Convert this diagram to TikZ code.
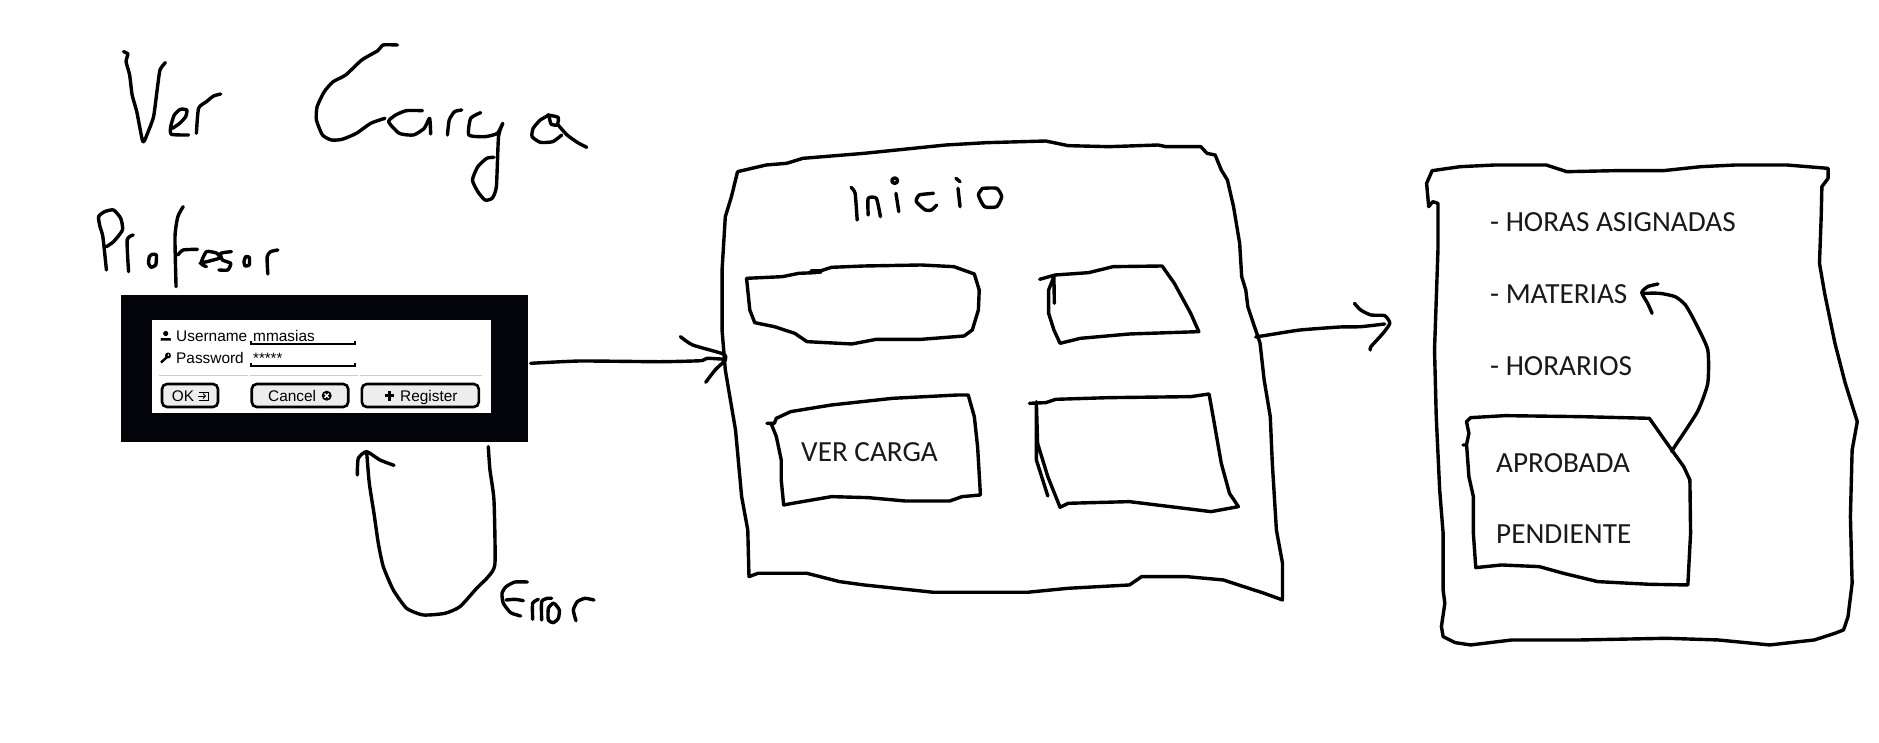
\documentclass[tikz,border=0pt]{standalone}
\usepackage{fontspec}
\setmainfont{Liberation Sans}
\newfontfamily\notefont{Carlito}
\definecolor{boxblack}{HTML}{020409}
\tikzset{
  ink/.style={draw=black,line width=3.4pt,line join=round,line cap=round},
  typed/.style={font=\notefont\fontsize{29.2}{32}\selectfont,text=black!90,anchor=west,inner sep=0pt},
  uitext/.style={font=\fontsize{15.4}{18}\selectfont,text=black,inner sep=0pt,anchor=west,text height=11pt,text depth=0pt},
  uibtn/.style={draw=black,line width=2.6pt,fill=black!7,rounded corners=5pt},
  uifield/.style={draw=black,line width=1.5pt},
  uisep/.style={draw=black!20,line width=1.5pt},
  zone1/.style={xshift=60pt,yshift=-20pt,x=.3571pt,y=-.3333pt},
  zone2/.style={xshift=100pt,yshift=-280pt,x=.3333pt,y=-.3333pt},
  zone3/.style={xshift=660pt,yshift=-130pt,x=.4082pt,y=-.3333pt},
  zone4/.style={xshift=1340pt,yshift=-150pt,x=.3437pt,y=-.3333pt},
  zone5/.style={xshift=490pt,yshift=-570pt,x=.3333pt,y=-.3333pt}
}
\newcommand{\inkline}[1]{\draw[ink] plot[smooth,tension=0.35] coordinates {#1};}
\begin{document}
\begin{tikzpicture}[x=1pt,y=-1pt]
\useasboundingbox (0,0) rectangle (1879,742);
\fill[white] (0,0) rectangle (1879,742);
% title
\begin{scope}[zone1]
\inkline{(178,95)(190,102)(185,125)(195,165)(202,225)(215,275)(232,365)(245,340)(262,290)(272,210)(280,150)(295,128)}
\inkline{(360,345)(312,343)(310,320)(320,285)(337,268)(355,270)(352,290)(335,310)(315,325)}
\inkline{(382,340)(388,265)(410,245)(430,228)(450,222)}
\inkline{(945,75)(905,75)(890,92)(845,120)(800,165)(765,185)(740,215)(720,260)(718,300)(735,345)(760,360)(790,358)(830,340)(870,310)(910,295)}
\inkline{(1015,272)(970,272)(940,285)(920,305)(950,340)(990,345)(1020,325)(1035,295)(1038,342)}
\inkline{(1085,345)(1090,300)(1105,275)(1125,270)}
\inkline{(1178,278)(1150,295)(1145,345)(1190,350)(1225,340)(1240,310)(1228,350)(1222,500)(1210,535)(1190,540)(1170,515)(1155,480)(1170,440)(1195,415)(1215,412)}
\inkline{(1370,285)(1345,300)(1325,325)(1322,350)(1345,367)(1380,365)(1405,345)}
\inkline{(1365,285)(1395,292)(1392,315)(1375,312)(1370,290)}
\inkline{(1395,315)(1420,345)(1450,368)(1475,382)}
% Profesor
\inkline{(130,750)(120,650)(112,620)(108,590)(125,575)(150,570)(170,595)(175,630)(150,665)(130,680)}
\inkline{(192,755)(188,660)(205,645)}
\inkline{(250,710)(258,703)(270,705)(268,735)(255,742)(248,730)(250,710)}
\inkline{(325,800)(322,650)(330,590)(345,560)}
\inkline{(330,705)(345,690)(385,688)}
\inkline{(392,730)(445,715)(440,700)(410,695)(395,730)(410,740)}
\inkline{(480,695)(450,700)(455,720)(478,730)(470,750)(445,750)}
\inkline{(515,725)(520,710)(530,712)(530,735)(518,738)(515,725)}
\inkline{(582,762)(580,710)(590,695)(610,690)}
\end{scope}
% login box
\node[fill=boxblack,minimum width=407pt,minimum height=147pt,inner sep=0pt,anchor=north west] (login) at (121,295) {};
\node[fill=white,minimum width=339pt,minimum height=93pt,inner sep=0pt,anchor=north west] (form) at (152,320) {};
\node[uitext] (userlbl) at (176,336) {Username};
\node[uitext] (passlbl) at (176,358) {Password};
\node[uitext] (userval) at (253,336) {mmasias};
\node[uitext,font=\fontsize{15}{16}\selectfont] (passval) at (253,358) {*****};
\draw[uifield] (251,341) -- (251,344) -- (355,344) -- (355,341);
\draw[uifield] (251,363) -- (251,366) -- (355,366) -- (355,363);
\draw[uisep] (159,375.7) -- (247.5,375.7);
\draw[uisep] (249.5,375.7) -- (358,375.7);
\draw[uisep] (360,375.7) -- (482,375.7);
% user icon
\fill (165.7,333.5) circle (2.6pt);
\fill (160.5,340.5) -- (161,338) -- (170.5,338) -- (171,340.5) -- cycle;
% key icon
\fill (168,355.5) circle (3pt);
\draw[line width=2.4pt] (167,357) -- (161,362.5);
\fill[white] (168.5,355) circle (.8pt);
% buttons
\node[uibtn,minimum width=56pt,minimum height=23pt,inner sep=0pt] (okbtn) at (190,395.5) {};
\node[uibtn,minimum width=96.5pt,minimum height=23pt,inner sep=0pt] (cancelbtn) at (300,395.5) {};
\node[uibtn,minimum width=117pt,minimum height=23pt,inner sep=0pt] (regbtn) at (420.3,395.5) {};
\node[uitext] (oktxt) at (171.7,396) {OK};
\node[uitext] (canceltxt) at (268,396) {Cancel};
\node[uitext] (regtxt) at (400,396) {Register};
% ok icon
\draw[line width=.9pt] (198,396) -- (205,396);
\draw[line width=.9pt] (203,393.5) -- (205.5,396) -- (203,398.5);
\draw[line width=.9pt] (199,392) -- (208,392) -- (208,400) -- (199,400);
% cancel icon
\fill (326.7,395.7) circle (5pt);
\draw[white,line width=1.3pt] (324.6,393.6) -- (328.8,397.8) (328.8,393.6) -- (324.6,397.8);
% plus icon
\draw[line width=2.6pt] (384.5,395.7) -- (394,395.7) (389.3,391) -- (389.3,400.5);
% loop arrow and Error
\begin{scope}[zone2]
\inkline{(1165,500)(1170,570)(1182,660)(1185,850)(1165,890)(1130,925)(1080,980)(1035,1000)(970,1005)(920,985)(880,930)(850,860)(835,790)(822,700)(808,610)(800,515)}
\inkline{(772,585)(775,535)(800,515)(840,540)(882,556)}
\end{scope}
\begin{scope}[zone5]
\inkline{(112,36)(75,36)(48,50)(36,70)(40,100)(62,128)(92,138)}
\inkline{(48,90)(75,88)(100,92)}
\inkline{(128,148)(128,100)(145,88)}
\inkline{(155,150)(155,95)(172,85)(185,85)}
\inkline{(188,100)(175,115)(175,150)(190,158)(205,145)(208,120)(195,102)(188,100)}
\inkline{(258,152)(250,120)(262,95)(285,85)(312,90)}
\end{scope}
% arrow login to inicio
\coordinate (a1s) at (530.7,363.3);
\coordinate (a1e) at (725.3,359.3);
\draw[ink] plot[smooth,tension=0.3] coordinates {(a1s)(580,361)(660,361.7)(700.8,360.7)(707,358.3)(a1e)};
% inicio
\begin{scope}[zone3]
\inkline{(50,620)(80,645)(155,672)(160,690)(135,720)(112,757)}
\draw[ink] plot coordinates {(190,125)(260,105)(310,100)(350,85)(500,70)(700,45)(800,38)(945,33)(1000,47)(1100,50)(1220,45)(1240,50)(1325,50)(1340,70)(1360,75)(1375,120)(1390,150)(1405,230)(1420,340)(1425,440)(1435,480)(1440,530)(1470,640)(1480,750)(1495,860)(1500,1000)(1510,1200)(1525,1300)(1525,1410)(1480,1390)(1380,1350)(1290,1340)(1180,1340)(1150,1365)(1000,1375)(900,1387)(670,1387)(500,1365)(440,1355)(360,1330)(240,1330)(218,1340)(215,1200)(200,1100)(185,900)(160,720)(152,600)(152,420)(158,300)(160,260)(175,200)(190,125)};
\inkline{(468,172)(478,190)(483,270)}
\inkline{(510,255)(510,205)(530,205)(540,260)}
\inkline{(585,245)(578,190)}
\draw[ink] (575,152) circle [x radius=7,y radius=8];
\inkline{(670,190)(635,195)(628,215)(650,240)(665,240)(678,225)}
\inkline{(735,230)(730,175)}
\inkline{(725,145)(735,155)}
\inkline{(790,175)(780,195)(795,230)(825,230)(837,200)(825,175)(790,175)}
\draw[ink] plot coordinates {(212,445)(300,440)(340,430)(380,428)(420,412)(500,408)(640,405)(720,410)(770,432)(782,480)(780,540)(765,600)(745,618)(640,628)(530,628)(470,642)(360,635)(330,610)(280,590)(232,578)(220,540)(212,445)};
\draw[ink,line width=5pt] (372,425) -- (392,425);
\draw[ink] plot coordinates {(930,448)(968,435)(1050,428)(1110,410)(1230,408)(1260,460)(1300,550)(1320,605)(1150,612)(1030,625)(980,640)(965,600)(952,550)(952,480)(965,440)(966,520)};
\draw[ink] plot coordinates {(262,880)(280,880)(285,865)(320,845)(420,825)(570,805)(730,795)(755,795)(770,860)(778,950)(785,1095)(740,1100)(710,1113)(600,1113)(510,1103)(420,1100)(325,1120)(303,1125)(297,1050)(297,990)(285,920)(272,880)};
\draw[ink] plot coordinates {(905,820)(945,818)(970,808)(1100,803)(1300,800)(1345,792)(1355,860)(1375,1000)(1395,1090)(1417,1130)(1350,1145)(1250,1130)(1150,1115)(1000,1120)(980,1132)(950,1040)(925,940)(922,815)(922,990)(950,1098)};
\end{scope}
\node[typed] (vercarga) at (801,452.5) {VER CARGA};
% arrow inicio to detail
\coordinate (a2s) at (1255.7,337);
\coordinate (a2e) at (1384.7,324);
\draw[ink] plot[smooth,tension=0.3] coordinates {(a2s)(1268,335)(1300,330)(1340,327)(1360.6,326.7)(a2e)};
\begin{scope}[zone4]
\inkline{(42,460)(60,480)(90,495)(130,497)(145,520)(125,550)(90,590)(88,600)}
\draw[ink] plot coordinates {(258,170)(252,100)(268,62)(350,50)(450,45)(600,45)(660,65)(800,62)(940,62)(1050,50)(1150,45)(1300,45)(1420,55)(1420,85)(1402,110)(1400,200)(1395,340)(1410,430)(1440,580)(1470,700)(1505,815)(1490,900)(1485,1100)(1490,1300)(1478,1400)(1465,1440)(1440,1450)(1380,1470)(1250,1485)(1100,1470)(950,1465)(700,1470)(500,1470)(380,1485)(335,1478)(300,1460)(295,1430)(305,1360)(300,1320)(300,1150)(290,1020)(280,800)(275,600)(285,300)(285,160)(270,155)(258,170)};
\draw[ink] plot coordinates {(358,885)(368,885)(375,850)(368,815)(380,803)(480,797)(700,800)(900,805)(965,900)(1000,950)(1018,990)(1020,1150)(1012,1305)(900,1303)(750,1295)(650,1270)(580,1250)(470,1245)(395,1253)(388,1150)(388,1040)(375,980)(368,880)};
\inkline{(965,905)(975,888)(1040,785)(1070,700)(1070,600)(1035,520)(1005,465)(975,440)(930,430)(880,430)}
\inkline{(925,402)(895,410)(878,428)(895,460)(908,490)}
\end{scope}
\node[typed] (horas) at (1490,222.5) {- HORAS ASIGNADAS};
\node[typed] (materias) at (1490,294) {- MATERIAS};
\node[typed] (horarios) at (1490,366) {- HORARIOS};
\node[typed] (aprobada) at (1496,463) {APROBADA};
\node[typed] (pendiente) at (1496,534) {PENDIENTE};
\end{tikzpicture}
\end{document}
